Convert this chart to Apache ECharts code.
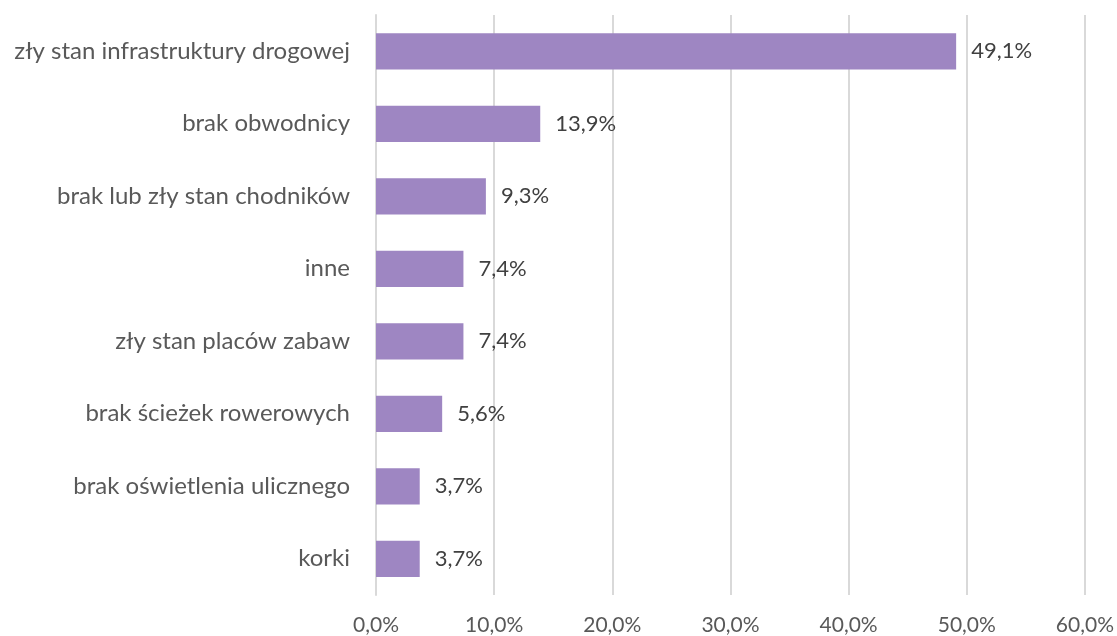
<!DOCTYPE html>
<html><head><meta charset="utf-8">
<script src="https://cdn.jsdelivr.net/npm/echarts@6/dist/echarts.min.js"></script>
<style>html,body{margin:0;padding:0;background:#fff}#c{width:1117px;height:636px}</style>
</head><body><div id="c"></div>
<script>
const categories = ["zły stan infrastruktury drogowej","brak obwodnicy","brak lub zły stan chodników","inne","zły stan placów zabaw","brak ścieżek rowerowych","brak oświetlenia ulicznego","korki"];
const values = [49.1, 13.9, 9.3, 7.4, 7.4, 5.6, 3.7, 3.7];
const fmt = v => v.toFixed(1).replace('.', ',') + '%';
const chart = echarts.init(document.getElementById('c'));
chart.setOption({
  animation:false,
  grid:{left:376,right:31,top:15,bottom:41,containLabel:false},
  xAxis:{type:'value',min:0,max:60,interval:10,
    axisLabel:{formatter:v=>fmt(v),color:'#595959',fontSize:21,fontFamily:'Lato',margin:20},
    splitLine:{lineStyle:{color:'#d9d9d9',width:2}},axisLine:{show:false},axisTick:{show:false}},
  yAxis:{type:'category',inverse:true,data:categories,
    axisLabel:{color:'#595959',fontSize:24,fontFamily:'Lato',margin:26},
    axisLine:{show:true,lineStyle:{color:'#d9d9d9',width:2}},axisTick:{show:false}},
  series:[{type:'bar',data:values,barWidth:'50%',
    itemStyle:{color:'#9e86c2'},
    label:{show:true,position:'right',distance:15,formatter:p=>fmt(p.value),color:'#404040',fontSize:22,fontFamily:'Lato'}}]
});
</script></body></html>
